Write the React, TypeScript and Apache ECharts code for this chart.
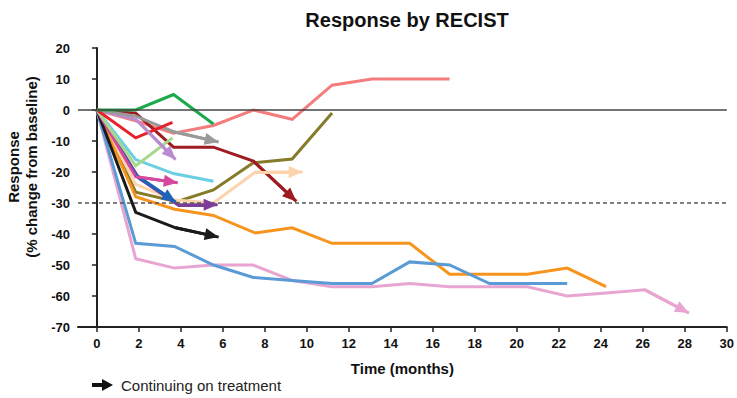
import React, { useEffect, useRef } from "react";
import * as echarts from "echarts";

const xTicks = [0, 2, 4, 6, 8, 10, 12, 14, 16, 18, 20, 22, 24, 26, 28, 30];

const salmon = [[0, 0], [1.85, -3.5], [3.65, -7.5], [5.55, -5], [7.45, 0], [9.3, -3], [11.2, 8], [13.1, 10], [16.8, 10]];
const red = [[0, 0], [1.85, -9], [3.6, -4]];
const green = [[0, 0], [1.85, 0], [3.65, 5], [5.55, -4.5]];
const gray = [[0, 0], [1.85, -2], [3.65, -7], [5.8, -10.3]];
const darkRed = [[0, 0], [1.85, -1], [3.65, -12], [5.55, -12], [7.45, -16.5], [9.5, -29.5]];
const olive = [[0, 0], [1.85, -26.5], [3.8, -29.6], [5.55, -25.8], [7.45, -17], [9.3, -15.8], [11.2, -1]];
const lightGreen = [[0, 0], [1.85, -18], [3.6, -9]];
const orchid = [[0, 0], [1.85, -3], [3.75, -16]];
const cyan = [[0, 0], [1.85, -16], [3.65, -20.5], [5.55, -23]];
const magenta = [[0, 0], [1.85, -21.5], [3.85, -23.5]];
const blue = [[0, 0], [1.85, -21], [3.75, -29.7]];
const purple = [[0, 0], [2.0, -22], [3.85, -30.6], [5.75, -30.6]];
const peach = [[0, 0], [1.85, -24], [3.7, -29], [5.55, -30], [7.55, -20], [9.8, -20]];
const orange = [[0, 0], [1.85, -28], [3.7, -32], [5.55, -34], [7.55, -39.7], [9.3, -38], [11.2, -43], [13.1, -43], [14.9, -43], [16.8, -53], [18.7, -53], [20.5, -53], [22.4, -51], [24.25, -57]];
const medBlue = [[0, 0], [1.85, -43], [3.7, -44], [5.55, -50], [7.45, -54], [9.3, -55], [11.2, -56], [13.1, -56], [14.9, -49], [16.8, -50], [18.7, -56], [20.5, -56], [22.4, -56]];
const pink = [[0, 0], [1.85, -48], [3.7, -51], [5.55, -50], [7.45, -50], [9.3, -55], [11.2, -57], [13.1, -57], [14.9, -56], [16.8, -57], [18.7, -57], [20.5, -57], [22.4, -60], [24.25, -59], [26.1, -58], [28.2, -65.5]];
const black = [[0, 0], [1.85, -33], [3.75, -38], [5.8, -41]];

const patients: { name: string; color: string; data: number[][]; arrow: boolean }[] = [
  { name: "P1", color: "#F47C7C", data: salmon, arrow: false },
  { name: "P2", color: "#9E1B20", data: darkRed, arrow: true },
  { name: "P3", color: "#857B2B", data: olive, arrow: false },
  { name: "P4", color: "#FDD3AD", data: peach, arrow: true },
  { name: "P5", color: "#F7941E", data: orange, arrow: false },
  { name: "P6", color: "#E8A5D2", data: pink, arrow: true },
  { name: "P7", color: "#5B9BD5", data: medBlue, arrow: false },
  { name: "P8", color: "#1A1A1A", data: black, arrow: true },
  { name: "P9", color: "#6ACFE2", data: cyan, arrow: false },
  { name: "P10", color: "#7D3C98", data: purple, arrow: true },
  { name: "P11", color: "#1E63B8", data: blue, arrow: true },
  { name: "P12", color: "#D6479E", data: magenta, arrow: true },
  { name: "P13", color: "#A8D88C", data: lightGreen, arrow: false },
  { name: "P14", color: "#B98BD0", data: orchid, arrow: true },
  { name: "P15", color: "#9A9A9A", data: gray, arrow: true },
  { name: "P16", color: "#E8202A", data: red, arrow: false },
  { name: "P17", color: "#1AAA4A", data: green, arrow: false },
];

const FONT = "'Liberation Sans', Arial, sans-serif";
const ARROW_LEN = 14;
const ARROW_W = 12;

export default function App() {
  const ref = useRef<HTMLDivElement>(null);
  useEffect(() => {
    if (!ref.current) return;
    const chart = echarts.init(ref.current, null, { renderer: "svg" });
    const series: any[] = [
      {
        type: "line",
        data: [],
        z: 1,
        silent: true,
        markLine: {
          silent: true,
          symbol: "none",
          label: { show: false },
          data: [
            { yAxis: 0, lineStyle: { color: "#444", type: "solid", width: 1.5 } },
            { yAxis: -30, lineStyle: { color: "#555", type: [4, 3], width: 1.5 } },
          ],
        },
      },
    ];
    patients.forEach((p) => {
      series.push({
        type: "line",
        name: p.name,
        data: p.data,
        showSymbol: false,
        symbol: "none",
        z: 2,
        silent: true,
        lineStyle: { color: p.color, width: 3, join: "miter" },
        itemStyle: { color: p.color },
      });
    });
    chart.setOption({
      animation: false,
      title: {
        text: "Response by RECIST",
        left: 402,
        top: 5,
        textAlign: "center",
        textStyle: { fontFamily: FONT, fontSize: 20, fontWeight: "bold", color: "#111" },
      },
      grid: { left: 78, right: 9, top: 48, bottom: 71, containLabel: false },
      xAxis: {
        type: "value",
        min: -0.9,
        max: 30,
        name: "Time (months)",
        nameLocation: "middle",
        nameGap: 34,
        nameTextStyle: { fontFamily: FONT, fontSize: 15, fontWeight: "bold", color: "#111" },
        axisLine: { onZero: false, lineStyle: { color: "#222", width: 2 } },
        axisTick: { show: true, length: 5, lineStyle: { color: "#222", width: 1.5 }, customValues: xTicks },
        axisLabel: { customValues: xTicks, fontFamily: FONT, fontSize: 13, fontWeight: "bold", color: "#111", margin: 10 },
        splitLine: { show: false },
      },
      yAxis: {
        type: "value",
        min: -70,
        max: 20,
        interval: 10,
        axisLine: { show: true, lineStyle: { color: "#222", width: 2 } },
        axisTick: { show: true, length: 5, lineStyle: { color: "#222", width: 1.5 } },
        axisLabel: { fontFamily: FONT, fontSize: 13, fontWeight: "bold", color: "#111", margin: 8 },
        splitLine: { show: false },
      },
      graphic: [
        {
          type: "text",
          x: 22,
          y: 167,
          rotation: Math.PI / 2,
          style: {
            text: "Response\n(% change from baseline)",
            align: "center",
            verticalAlign: "middle",
            font: "bold 15px " + FONT,
            lineHeight: 18,
            fill: "#111",
          },
        },
        {
          type: "polygon",
          shape: { points: [[92, 383], [102, 383], [102, 379], [113, 385], [102, 391], [102, 387], [92, 387]] },
          style: { fill: "#111" },
        },
        {
          type: "text",
          x: 121,
          y: 385,
          style: {
            text: "Continuing on treatment",
            verticalAlign: "middle",
            font: "15px " + FONT,
            fill: "#222",
          },
        },
      ],
      series,
    });

    // arrowheads: triangle whose tip lands on the last data point of the series
    const arrowSeries: any[] = [{}];
    patients.forEach((p) => {
      if (!p.arrow) {
        arrowSeries.push({});
        return;
      }
      const n = p.data.length;
      const a = chart.convertToPixel({ gridIndex: 0 }, p.data[n - 2]) as number[];
      const b = chart.convertToPixel({ gridIndex: 0 }, p.data[n - 1]) as number[];
      const dx = b[0] - a[0];
      const dy = b[1] - a[1];
      const len = Math.sqrt(dx * dx + dy * dy) || 1;
      const ux = dx / len;
      const uy = dy / len;
      const cx = b[0] - ux * (ARROW_LEN / 2);
      const cy = b[1] - uy * (ARROW_LEN / 2);
      arrowSeries.push({
        markLine: {
          silent: true,
          label: { show: false },
          symbol: ["none", "triangle"],
          symbolSize: [ARROW_W, ARROW_LEN],
          lineStyle: { color: p.color, width: 3, type: "solid", opacity: 1 },
          data: [[
            { x: a[0], y: a[1] },
            { x: cx, y: cy },
          ]],
        },
      });
    });
    chart.setOption({ series: arrowSeries });
    return () => chart.dispose();
  }, []);
  return <div ref={ref} style={{ width: 737, height: 398, position: "absolute", left: 0, top: 0 }} />;
}
